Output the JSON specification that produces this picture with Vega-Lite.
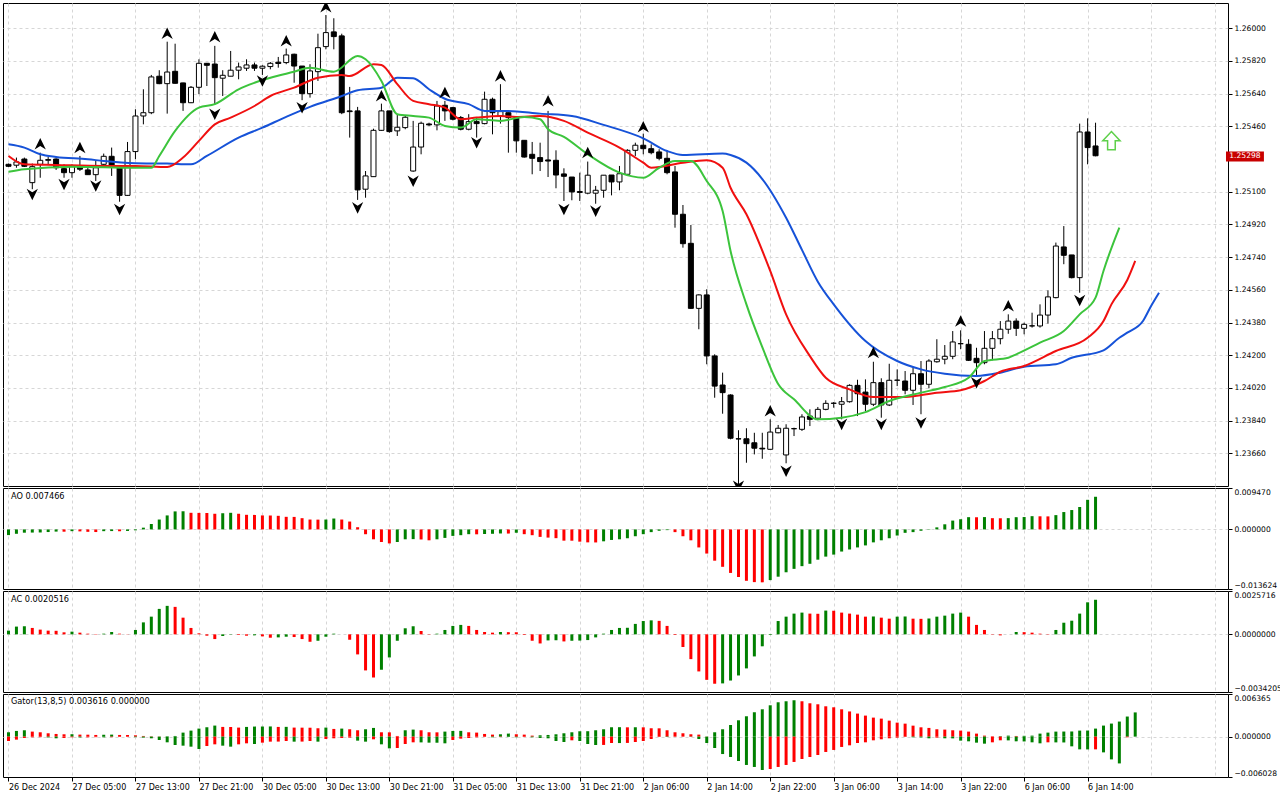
{
"$schema": "https://vega.github.io/schema/vega-lite/v6.json",
"background": "white",
"padding": {"left": 2, "top": 2, "right": 0, "bottom": 0},
"spacing": 0,
"config": {
  "view": {"stroke": "black", "strokeWidth": 1},
  "axis": {"labelFont": "DejaVu Sans", "labelFontSize": 7.6, "labelColor": "black", "tickColor": "black", "gridColor": "#d6d6d6", "gridDash": [3, 3], "gridWidth": 1, "domain": false},
  "text": {"font": "DejaVu Sans"}
},
"datasets": {
"candles": [
{"i":0,"o":1.25251,"h":1.25255,"l":1.25236,"c":1.2524,"d":"down"},
{"i":1,"o":1.25246,"h":1.25288,"l":1.25232,"c":1.25264,"d":"up"},
{"i":2,"o":1.2528,"h":1.25288,"l":1.25236,"c":1.2524,"d":"down"},
{"i":3,"o":1.2515,"h":1.25255,"l":1.25114,"c":1.25238,"d":"up"},
{"i":4,"o":1.25251,"h":1.25315,"l":1.25177,"c":1.25273,"d":"up"},
{"i":5,"o":1.25273,"h":1.25291,"l":1.25251,"c":1.25277,"d":"up"},
{"i":6,"o":1.2528,"h":1.25284,"l":1.2522,"c":1.25232,"d":"down"},
{"i":7,"o":1.25227,"h":1.25251,"l":1.25177,"c":1.25205,"d":"down"},
{"i":8,"o":1.25205,"h":1.25251,"l":1.25177,"c":1.25238,"d":"up"},
{"i":9,"o":1.25238,"h":1.25297,"l":1.25214,"c":1.25224,"d":"down"},
{"i":10,"o":1.2522,"h":1.25242,"l":1.25194,"c":1.25194,"d":"down"},
{"i":11,"o":1.25194,"h":1.25273,"l":1.25159,"c":1.25232,"d":"up"},
{"i":12,"o":1.25251,"h":1.2531,"l":1.25232,"c":1.25295,"d":"up"},
{"i":13,"o":1.25295,"h":1.25343,"l":1.25187,"c":1.25247,"d":"down"},
{"i":14,"o":1.25232,"h":1.25238,"l":1.25045,"c":1.2508,"d":"down"},
{"i":15,"o":1.2508,"h":1.25374,"l":1.25077,"c":1.25321,"d":"up"},
{"i":16,"o":1.25321,"h":1.25554,"l":1.25279,"c":1.25517,"d":"up"},
{"i":17,"o":1.25517,"h":1.25664,"l":1.25471,"c":1.25535,"d":"up"},
{"i":18,"o":1.25535,"h":1.25743,"l":1.25527,"c":1.25732,"d":"up"},
{"i":19,"o":1.25736,"h":1.25769,"l":1.25692,"c":1.25695,"d":"down"},
{"i":20,"o":1.25695,"h":1.25926,"l":1.2553,"c":1.25759,"d":"up"},
{"i":21,"o":1.25763,"h":1.25915,"l":1.25695,"c":1.25697,"d":"down"},
{"i":22,"o":1.25699,"h":1.257,"l":1.25545,"c":1.2559,"d":"down"},
{"i":23,"o":1.2559,"h":1.25682,"l":1.25588,"c":1.25675,"d":"up"},
{"i":24,"o":1.25675,"h":1.25829,"l":1.25637,"c":1.25807,"d":"up"},
{"i":25,"o":1.25807,"h":1.25809,"l":1.25682,"c":1.25796,"d":"down"},
{"i":26,"o":1.25803,"h":1.25903,"l":1.25578,"c":1.25728,"d":"down"},
{"i":27,"o":1.25725,"h":1.25769,"l":1.25627,"c":1.25741,"d":"up"},
{"i":28,"o":1.25736,"h":1.25875,"l":1.25736,"c":1.25769,"d":"up"},
{"i":29,"o":1.25769,"h":1.25811,"l":1.25719,"c":1.25787,"d":"up"},
{"i":30,"o":1.2578,"h":1.25829,"l":1.25765,"c":1.25798,"d":"up"},
{"i":31,"o":1.25798,"h":1.25811,"l":1.25765,"c":1.2578,"d":"down"},
{"i":32,"o":1.2578,"h":1.25796,"l":1.25743,"c":1.25791,"d":"up"},
{"i":33,"o":1.25789,"h":1.25814,"l":1.25774,"c":1.25807,"d":"up"},
{"i":34,"o":1.25813,"h":1.25842,"l":1.25783,"c":1.25806,"d":"down"},
{"i":35,"o":1.25811,"h":1.25888,"l":1.25802,"c":1.25853,"d":"up"},
{"i":36,"o":1.25857,"h":1.2586,"l":1.257,"c":1.25792,"d":"down"},
{"i":37,"o":1.25792,"h":1.25792,"l":1.25604,"c":1.2564,"d":"down"},
{"i":38,"o":1.2564,"h":1.25802,"l":1.25618,"c":1.25765,"d":"up"},
{"i":39,"o":1.25761,"h":1.2597,"l":1.2571,"c":1.25893,"d":"up"},
{"i":40,"o":1.25899,"h":1.26073,"l":1.25884,"c":1.25976,"d":"up"},
{"i":41,"o":1.2598,"h":1.26055,"l":1.25884,"c":1.25954,"d":"down"},
{"i":42,"o":1.25958,"h":1.2597,"l":1.25527,"c":1.25535,"d":"down"},
{"i":43,"o":1.25545,"h":1.25677,"l":1.25398,"c":1.25541,"d":"down"},
{"i":44,"o":1.25545,"h":1.25567,"l":1.25055,"c":1.2511,"d":"down"},
{"i":45,"o":1.25114,"h":1.25214,"l":1.25067,"c":1.25187,"d":"up"},
{"i":46,"o":1.25183,"h":1.25447,"l":1.25183,"c":1.25438,"d":"up"},
{"i":47,"o":1.25438,"h":1.25585,"l":1.25435,"c":1.25545,"d":"up"},
{"i":48,"o":1.25545,"h":1.25545,"l":1.25425,"c":1.25431,"d":"down"},
{"i":49,"o":1.25435,"h":1.25527,"l":1.25407,"c":1.25455,"d":"up"},
{"i":50,"o":1.25453,"h":1.25517,"l":1.25444,"c":1.2551,"d":"up"},
{"i":51,"o":1.25214,"h":1.2549,"l":1.2521,"c":1.25346,"d":"up"},
{"i":52,"o":1.25346,"h":1.25486,"l":1.25306,"c":1.25477,"d":"up"},
{"i":53,"o":1.25473,"h":1.2548,"l":1.25462,"c":1.25468,"d":"down"},
{"i":54,"o":1.25468,"h":1.256,"l":1.25438,"c":1.25572,"d":"up"},
{"i":55,"o":1.25576,"h":1.256,"l":1.2549,"c":1.25545,"d":"down"},
{"i":56,"o":1.25563,"h":1.25567,"l":1.25493,"c":1.25499,"d":"down"},
{"i":57,"o":1.25508,"h":1.25517,"l":1.25438,"c":1.25444,"d":"down"},
{"i":58,"o":1.25444,"h":1.25527,"l":1.25438,"c":1.25486,"d":"up"},
{"i":59,"o":1.25486,"h":1.25508,"l":1.25398,"c":1.25475,"d":"down"},
{"i":60,"o":1.25475,"h":1.25651,"l":1.25471,"c":1.25609,"d":"up"},
{"i":61,"o":1.25609,"h":1.25618,"l":1.25416,"c":1.25535,"d":"down"},
{"i":62,"o":1.25517,"h":1.25692,"l":1.25475,"c":1.25541,"d":"up"},
{"i":63,"o":1.25535,"h":1.25535,"l":1.25315,"c":1.25508,"d":"down"},
{"i":64,"o":1.25508,"h":1.25517,"l":1.25315,"c":1.2538,"d":"down"},
{"i":65,"o":1.25383,"h":1.25383,"l":1.25288,"c":1.25291,"d":"down"},
{"i":66,"o":1.25306,"h":1.25374,"l":1.25196,"c":1.25284,"d":"down"},
{"i":67,"o":1.25288,"h":1.2537,"l":1.25214,"c":1.25266,"d":"down"},
{"i":68,"o":1.25275,"h":1.25545,"l":1.25181,"c":1.25269,"d":"down"},
{"i":69,"o":1.25273,"h":1.25328,"l":1.25119,"c":1.25192,"d":"down"},
{"i":70,"o":1.25198,"h":1.25229,"l":1.25049,"c":1.25185,"d":"down"},
{"i":71,"o":1.25181,"h":1.25181,"l":1.25053,"c":1.25099,"d":"down"},
{"i":72,"o":1.25101,"h":1.25205,"l":1.25049,"c":1.25096,"d":"down"},
{"i":73,"o":1.25092,"h":1.25266,"l":1.25086,"c":1.25191,"d":"up"},
{"i":74,"o":1.25092,"h":1.25132,"l":1.25034,"c":1.25108,"d":"up"},
{"i":75,"o":1.25108,"h":1.25192,"l":1.25067,"c":1.25191,"d":"up"},
{"i":76,"o":1.25192,"h":1.25192,"l":1.2508,"c":1.25154,"d":"down"},
{"i":77,"o":1.25154,"h":1.25242,"l":1.25108,"c":1.25199,"d":"up"},
{"i":78,"o":1.25196,"h":1.25334,"l":1.25196,"c":1.25328,"d":"up"},
{"i":79,"o":1.25328,"h":1.2537,"l":1.25297,"c":1.25356,"d":"up"},
{"i":80,"o":1.25356,"h":1.2542,"l":1.25306,"c":1.25337,"d":"down"},
{"i":81,"o":1.25337,"h":1.25361,"l":1.25306,"c":1.25315,"d":"down"},
{"i":82,"o":1.25319,"h":1.25334,"l":1.25273,"c":1.25284,"d":"down"},
{"i":83,"o":1.25284,"h":1.25328,"l":1.25196,"c":1.25205,"d":"down"},
{"i":84,"o":1.25209,"h":1.25242,"l":1.24902,"c":1.24976,"d":"down"},
{"i":85,"o":1.24976,"h":1.25027,"l":1.24792,"c":1.24814,"d":"down"},
{"i":86,"o":1.24816,"h":1.24917,"l":1.24455,"c":1.24458,"d":"down"},
{"i":87,"o":1.24458,"h":1.24535,"l":1.24343,"c":1.24532,"d":"up"},
{"i":88,"o":1.24532,"h":1.24563,"l":1.2415,"c":1.24196,"d":"down"},
{"i":89,"o":1.24196,"h":1.24205,"l":1.23966,"c":1.2403,"d":"down"},
{"i":90,"o":1.24036,"h":1.24104,"l":1.23878,"c":1.23994,"d":"down"},
{"i":91,"o":1.23981,"h":1.23985,"l":1.23737,"c":1.23743,"d":"down"},
{"i":92,"o":1.2374,"h":1.23787,"l":1.23471,"c":1.23739,"d":"down"},
{"i":93,"o":1.2374,"h":1.23798,"l":1.23608,"c":1.23713,"d":"down"},
{"i":94,"o":1.23718,"h":1.23773,"l":1.23654,"c":1.23688,"d":"down"},
{"i":95,"o":1.23688,"h":1.23773,"l":1.2363,"c":1.23684,"d":"down"},
{"i":96,"o":1.23682,"h":1.23847,"l":1.2368,"c":1.23777,"d":"up"},
{"i":97,"o":1.23773,"h":1.23816,"l":1.2377,"c":1.23798,"d":"up"},
{"i":98,"o":1.23651,"h":1.2382,"l":1.23605,"c":1.23798,"d":"up"},
{"i":99,"o":1.23795,"h":1.23801,"l":1.23755,"c":1.23796,"d":"up"},
{"i":100,"o":1.23792,"h":1.23875,"l":1.23783,"c":1.2386,"d":"up"},
{"i":101,"o":1.23865,"h":1.23902,"l":1.2381,"c":1.23847,"d":"down"},
{"i":102,"o":1.23853,"h":1.23915,"l":1.23842,"c":1.23902,"d":"up"},
{"i":103,"o":1.23902,"h":1.23952,"l":1.23897,"c":1.23935,"d":"up"},
{"i":104,"o":1.23935,"h":1.23942,"l":1.23911,"c":1.23936,"d":"up"},
{"i":105,"o":1.2393,"h":1.2397,"l":1.23847,"c":1.23944,"d":"up"},
{"i":106,"o":1.23944,"h":1.2404,"l":1.23939,"c":1.24034,"d":"up"},
{"i":107,"o":1.24034,"h":1.24065,"l":1.23865,"c":1.23988,"d":"down"},
{"i":108,"o":1.23997,"h":1.24067,"l":1.23893,"c":1.2393,"d":"down"},
{"i":109,"o":1.2393,"h":1.24164,"l":1.2392,"c":1.24049,"d":"up"},
{"i":110,"o":1.24049,"h":1.24073,"l":1.23856,"c":1.23926,"d":"down"},
{"i":111,"o":1.23926,"h":1.24153,"l":1.2392,"c":1.24062,"d":"up"},
{"i":112,"o":1.24062,"h":1.24122,"l":1.2403,"c":1.24063,"d":"up"},
{"i":113,"o":1.24058,"h":1.24113,"l":1.23985,"c":1.24007,"d":"down"},
{"i":114,"o":1.24007,"h":1.24131,"l":1.23926,"c":1.24098,"d":"up"},
{"i":115,"o":1.24098,"h":1.24168,"l":1.23875,"c":1.2404,"d":"down"},
{"i":116,"o":1.2404,"h":1.24178,"l":1.24018,"c":1.24168,"d":"up"},
{"i":117,"o":1.24164,"h":1.24288,"l":1.24159,"c":1.24178,"d":"up"},
{"i":118,"o":1.24178,"h":1.24256,"l":1.2415,"c":1.24194,"d":"up"},
{"i":119,"o":1.24194,"h":1.24333,"l":1.24178,"c":1.24273,"d":"up"},
{"i":120,"o":1.24263,"h":1.24337,"l":1.24233,"c":1.24264,"d":"up"},
{"i":121,"o":1.2426,"h":1.24288,"l":1.24168,"c":1.24172,"d":"down"},
{"i":122,"o":1.24183,"h":1.24241,"l":1.24086,"c":1.24159,"d":"down"},
{"i":123,"o":1.24159,"h":1.24333,"l":1.2415,"c":1.24238,"d":"up"},
{"i":124,"o":1.24238,"h":1.24333,"l":1.24172,"c":1.24291,"d":"up"},
{"i":125,"o":1.24291,"h":1.24388,"l":1.2426,"c":1.24343,"d":"up"},
{"i":126,"o":1.24343,"h":1.24425,"l":1.24318,"c":1.24388,"d":"up"},
{"i":127,"o":1.24388,"h":1.24403,"l":1.24306,"c":1.24348,"d":"down"},
{"i":128,"o":1.24348,"h":1.24379,"l":1.24315,"c":1.2437,"d":"up"},
{"i":129,"o":1.24361,"h":1.24434,"l":1.24352,"c":1.24362,"d":"up"},
{"i":130,"o":1.24361,"h":1.2448,"l":1.24352,"c":1.24421,"d":"up"},
{"i":131,"o":1.24421,"h":1.24557,"l":1.24374,"c":1.24521,"d":"up"},
{"i":132,"o":1.24517,"h":1.2482,"l":1.24513,"c":1.24801,"d":"up"},
{"i":133,"o":1.24796,"h":1.24911,"l":1.24701,"c":1.2475,"d":"down"},
{"i":134,"o":1.24752,"h":1.24752,"l":1.24623,"c":1.24627,"d":"down"},
{"i":135,"o":1.24627,"h":1.25475,"l":1.24544,"c":1.25429,"d":"up"},
{"i":136,"o":1.25429,"h":1.25504,"l":1.25251,"c":1.25343,"d":"down"},
{"i":137,"o":1.25352,"h":1.2548,"l":1.25295,"c":1.25298,"d":"down"}
],
"jaw": [
{"i":0,"v":1.25361},{"i":2,"v":1.25343},{"i":4,"v":1.25306},{"i":6,"v":1.25291},{"i":10,"v":1.25279},{"i":12,"v":1.25269},{"i":16,"v":1.25257},{"i":20,"v":1.25255},{"i":23,"v":1.25251},{"i":25,"v":1.25297},{"i":29,"v":1.25398},{"i":32,"v":1.25453},{"i":35,"v":1.25512},{"i":38,"v":1.25567},{"i":42,"v":1.25627},{"i":44,"v":1.25659},{"i":47,"v":1.25673},{"i":49,"v":1.25728},{"i":51,"v":1.25725},{"i":53,"v":1.25664},{"i":55,"v":1.25612},{"i":58,"v":1.25582},{"i":60,"v":1.25545},{"i":63,"v":1.25545},{"i":67,"v":1.2553},{"i":71,"v":1.25517},{"i":75,"v":1.25468},{"i":80,"v":1.25394},{"i":83,"v":1.25324},{"i":85,"v":1.25302},{"i":90,"v":1.2531},{"i":91,"v":1.25302},{"i":93,"v":1.2526},{"i":95,"v":1.2517},{"i":98,"v":1.24957},{"i":100,"v":1.2478},{"i":102,"v":1.24605},{"i":104,"v":1.2448},{"i":108,"v":1.24278},{"i":112,"v":1.24168},{"i":115,"v":1.24122},{"i":118,"v":1.24098},{"i":122,"v":1.24086},{"i":125,"v":1.24104},{"i":128,"v":1.24137},{"i":132,"v":1.2415},{"i":134,"v":1.24186},{"i":138,"v":1.24227},{"i":140,"v":1.24296},{"i":141,"v":1.24324},{"i":143,"v":1.2439},{"i":144,"v":1.24471},{"i":145,"v":1.24544}
],
"teeth": [
{"i":0,"v":1.25297},{"i":2,"v":1.25251},{"i":6,"v":1.25247},{"i":12,"v":1.25242},{"i":16,"v":1.25242},{"i":20,"v":1.25236},{"i":22,"v":1.25288},{"i":24,"v":1.2538},{"i":26,"v":1.25471},{"i":28,"v":1.25508},{"i":31,"v":1.25572},{"i":33,"v":1.25627},{"i":36,"v":1.25673},{"i":39,"v":1.25728},{"i":42,"v":1.25743},{"i":43,"v":1.25737},{"i":46,"v":1.25802},{"i":47,"v":1.25798},{"i":49,"v":1.25692},{"i":51,"v":1.256},{"i":53,"v":1.25582},{"i":55,"v":1.25563},{"i":57,"v":1.25499},{"i":59,"v":1.25508},{"i":62,"v":1.25517},{"i":64,"v":1.25512},{"i":67,"v":1.25517},{"i":70,"v":1.2549},{"i":73,"v":1.25425},{"i":77,"v":1.25343},{"i":80,"v":1.2526},{"i":81,"v":1.25232},{"i":85,"v":1.2526},{"i":88,"v":1.25273},{"i":90,"v":1.25232},{"i":91,"v":1.25122},{"i":93,"v":1.24976},{"i":96,"v":1.24664},{"i":98,"v":1.24425},{"i":101,"v":1.24195},{"i":103,"v":1.24076},{"i":106,"v":1.24012},{"i":109,"v":1.2397},{"i":113,"v":1.2397},{"i":117,"v":1.23994},{"i":120,"v":1.24007},{"i":123,"v":1.24058},{"i":125,"v":1.24109},{"i":128,"v":1.24141},{"i":132,"v":1.24223},{"i":136,"v":1.24296},{"i":138,"v":1.24388},{"i":139,"v":1.2448},{"i":141,"v":1.24614},{"i":142,"v":1.24719}
],
"lips": [
{"i":0,"v":1.2521},{"i":2,"v":1.25224},{"i":8,"v":1.25238},{"i":16,"v":1.25232},{"i":18,"v":1.25232},{"i":19,"v":1.25297},{"i":21,"v":1.25435},{"i":24,"v":1.25563},{"i":26,"v":1.25582},{"i":29,"v":1.25664},{"i":31,"v":1.257},{"i":35,"v":1.2575},{"i":36,"v":1.25761},{"i":38,"v":1.25783},{"i":41,"v":1.25761},{"i":44,"v":1.25847},{"i":45,"v":1.25829},{"i":47,"v":1.2571},{"i":49,"v":1.25527},{"i":51,"v":1.25517},{"i":53,"v":1.25508},{"i":55,"v":1.25462},{"i":57,"v":1.25453},{"i":59,"v":1.25499},{"i":62,"v":1.2549},{"i":65,"v":1.25512},{"i":67,"v":1.25499},{"i":68,"v":1.25444},{"i":70,"v":1.25402},{"i":73,"v":1.25306},{"i":77,"v":1.25205},{"i":80,"v":1.25177},{"i":82,"v":1.25232},{"i":84,"v":1.25269},{"i":86,"v":1.25269},{"i":88,"v":1.25159},{"i":90,"v":1.24994},{"i":91,"v":1.24774},{"i":93,"v":1.2448},{"i":95,"v":1.24245},{"i":97,"v":1.24042},{"i":99,"v":1.23957},{"i":102,"v":1.23847},{"i":105,"v":1.23856},{"i":108,"v":1.23887},{"i":111,"v":1.23948},{"i":115,"v":1.23994},{"i":118,"v":1.24025},{"i":121,"v":1.24076},{"i":123,"v":1.24168},{"i":126,"v":1.24186},{"i":127,"v":1.24205},{"i":130,"v":1.24269},{"i":133,"v":1.24333},{"i":135,"v":1.24425},{"i":137,"v":1.24517},{"i":138,"v":1.24664},{"i":140,"v":1.24902}
],
"fractals": [
{"i":4,"p":1.25363,"t":"up"},{"i":9,"p":1.25343,"t":"up"},{"i":20,"p":1.25972,"t":"up"},{"i":26,"p":1.25952,"t":"up"},{"i":35,"p":1.2593,"t":"up"},{"i":40,"p":1.26117,"t":"up"},{"i":47,"p":1.25627,"t":"up"},{"i":55,"p":1.25645,"t":"up"},{"i":62,"p":1.25737,"t":"up"},{"i":68,"p":1.256,"t":"up"},{"i":73,"p":1.25315,"t":"up"},{"i":80,"p":1.25457,"t":"up"},{"i":96,"p":1.23893,"t":"up"},{"i":109,"p":1.24214,"t":"up"},{"i":120,"p":1.24388,"t":"up"},{"i":126,"p":1.24471,"t":"up"},
{"i":3,"p":1.25086,"t":"down"},{"i":7,"p":1.25141,"t":"down"},{"i":11,"p":1.25132,"t":"down"},{"i":14,"p":1.25003,"t":"down"},{"i":26,"p":1.25527,"t":"down"},{"i":32,"p":1.2571,"t":"down"},{"i":37,"p":1.25563,"t":"down"},{"i":44,"p":1.25012,"t":"down"},{"i":51,"p":1.25159,"t":"down"},{"i":59,"p":1.2537,"t":"down"},{"i":70,"p":1.25003,"t":"down"},{"i":74,"p":1.24994,"t":"down"},{"i":92,"p":1.2348,"t":"down"},{"i":98,"p":1.23562,"t":"down"},{"i":105,"p":1.2382,"t":"down"},{"i":110,"p":1.2382,"t":"down"},{"i":115,"p":1.23828,"t":"down"},{"i":122,"p":1.24049,"t":"down"},{"i":135,"p":1.24502,"t":"down"}
],
"ao": [
{"i":0,"v":-0.0013,"c":"up"},{"i":1,"v":-0.001,"c":"up"},{"i":2,"v":-0.00075,"c":"up"},{"i":3,"v":-0.00072,"c":"up"},{"i":4,"v":-0.0007,"c":"up"},{"i":5,"v":-0.0006,"c":"up"},{"i":6,"v":-0.0005,"c":"up"},{"i":7,"v":-0.00052,"c":"down"},{"i":8,"v":-0.0004,"c":"up"},{"i":9,"v":-0.00045,"c":"down"},{"i":10,"v":-0.00055,"c":"down"},{"i":11,"v":-0.0006,"c":"down"},{"i":12,"v":-0.0004,"c":"up"},{"i":13,"v":-0.00038,"c":"up"},{"i":14,"v":-0.00042,"c":"down"},{"i":15,"v":-0.00035,"c":"up"},{"i":16,"v":-0.0002,"c":"up"},{"i":17,"v":0.0004,"c":"up"},{"i":18,"v":0.00124,"c":"up"},{"i":19,"v":0.00226,"c":"up"},{"i":20,"v":0.0032,"c":"up"},{"i":21,"v":0.00412,"c":"up"},{"i":22,"v":0.00415,"c":"up"},{"i":23,"v":0.0038,"c":"down"},{"i":24,"v":0.00378,"c":"down"},{"i":25,"v":0.00376,"c":"down"},{"i":26,"v":0.00358,"c":"down"},{"i":27,"v":0.0037,"c":"up"},{"i":28,"v":0.0038,"c":"up"},{"i":29,"v":0.00358,"c":"down"},{"i":30,"v":0.00334,"c":"down"},{"i":31,"v":0.00332,"c":"down"},{"i":32,"v":0.0032,"c":"down"},{"i":33,"v":0.00318,"c":"down"},{"i":34,"v":0.00311,"c":"down"},{"i":35,"v":0.00288,"c":"down"},{"i":36,"v":0.00286,"c":"down"},{"i":37,"v":0.00257,"c":"down"},{"i":38,"v":0.00226,"c":"down"},{"i":39,"v":0.00224,"c":"down"},{"i":40,"v":0.00226,"c":"up"},{"i":41,"v":0.00249,"c":"up"},{"i":42,"v":0.00226,"c":"down"},{"i":43,"v":0.0018,"c":"down"},{"i":44,"v":0.0005,"c":"down"},{"i":45,"v":-0.0011,"c":"down"},{"i":46,"v":-0.00226,"c":"down"},{"i":47,"v":-0.00288,"c":"down"},{"i":48,"v":-0.0032,"c":"down"},{"i":49,"v":-0.00288,"c":"up"},{"i":50,"v":-0.00226,"c":"up"},{"i":51,"v":-0.00222,"c":"up"},{"i":52,"v":-0.0023,"c":"down"},{"i":53,"v":-0.00249,"c":"down"},{"i":54,"v":-0.00226,"c":"up"},{"i":55,"v":-0.00194,"c":"up"},{"i":56,"v":-0.00148,"c":"up"},{"i":57,"v":-0.00132,"c":"up"},{"i":58,"v":-0.00109,"c":"up"},{"i":59,"v":-0.00112,"c":"down"},{"i":60,"v":-0.00105,"c":"up"},{"i":61,"v":-0.001,"c":"up"},{"i":62,"v":-0.00093,"c":"up"},{"i":63,"v":-0.00095,"c":"down"},{"i":64,"v":-0.00078,"c":"up"},{"i":65,"v":-0.00109,"c":"down"},{"i":66,"v":-0.00132,"c":"down"},{"i":67,"v":-0.00171,"c":"down"},{"i":68,"v":-0.00187,"c":"down"},{"i":69,"v":-0.002,"c":"down"},{"i":70,"v":-0.00257,"c":"down"},{"i":71,"v":-0.00258,"c":"down"},{"i":72,"v":-0.0028,"c":"down"},{"i":73,"v":-0.00296,"c":"down"},{"i":74,"v":-0.00298,"c":"down"},{"i":75,"v":-0.00272,"c":"up"},{"i":76,"v":-0.00241,"c":"up"},{"i":77,"v":-0.00226,"c":"up"},{"i":78,"v":-0.00202,"c":"up"},{"i":79,"v":-0.00156,"c":"up"},{"i":80,"v":-0.00109,"c":"up"},{"i":81,"v":-0.00062,"c":"up"},{"i":82,"v":-0.00031,"c":"up"},{"i":83,"v":-0.00016,"c":"up"},{"i":84,"v":-0.00062,"c":"down"},{"i":85,"v":-0.00156,"c":"down"},{"i":86,"v":-0.00249,"c":"down"},{"i":87,"v":-0.00412,"c":"down"},{"i":88,"v":-0.00552,"c":"down"},{"i":89,"v":-0.00715,"c":"down"},{"i":90,"v":-0.00855,"c":"down"},{"i":91,"v":-0.00995,"c":"down"},{"i":92,"v":-0.01088,"c":"down"},{"i":93,"v":-0.01175,"c":"down"},{"i":94,"v":-0.01205,"c":"down"},{"i":95,"v":-0.0121,"c":"down"},{"i":96,"v":-0.01159,"c":"up"},{"i":97,"v":-0.01081,"c":"up"},{"i":98,"v":-0.0098,"c":"up"},{"i":99,"v":-0.00902,"c":"up"},{"i":100,"v":-0.0084,"c":"up"},{"i":101,"v":-0.00786,"c":"up"},{"i":102,"v":-0.00692,"c":"up"},{"i":103,"v":-0.00622,"c":"up"},{"i":104,"v":-0.00576,"c":"up"},{"i":105,"v":-0.00506,"c":"up"},{"i":106,"v":-0.00459,"c":"up"},{"i":107,"v":-0.00412,"c":"up"},{"i":108,"v":-0.00366,"c":"up"},{"i":109,"v":-0.00296,"c":"up"},{"i":110,"v":-0.00249,"c":"up"},{"i":111,"v":-0.00202,"c":"up"},{"i":112,"v":-0.0014,"c":"up"},{"i":113,"v":-0.00078,"c":"up"},{"i":114,"v":-0.00062,"c":"up"},{"i":115,"v":-0.00031,"c":"up"},{"i":116,"v":0.00008,"c":"up"},{"i":117,"v":0.00047,"c":"up"},{"i":118,"v":0.00117,"c":"up"},{"i":119,"v":0.00202,"c":"up"},{"i":120,"v":0.00233,"c":"up"},{"i":121,"v":0.0028,"c":"up"},{"i":122,"v":0.00278,"c":"down"},{"i":123,"v":0.00282,"c":"up"},{"i":124,"v":0.00257,"c":"down"},{"i":125,"v":0.00255,"c":"down"},{"i":126,"v":0.00258,"c":"up"},{"i":127,"v":0.0028,"c":"up"},{"i":128,"v":0.00283,"c":"up"},{"i":129,"v":0.00303,"c":"up"},{"i":130,"v":0.003,"c":"down"},{"i":131,"v":0.00298,"c":"down"},{"i":132,"v":0.00327,"c":"up"},{"i":133,"v":0.00397,"c":"up"},{"i":134,"v":0.00443,"c":"up"},{"i":135,"v":0.00513,"c":"up"},{"i":136,"v":0.00677,"c":"up"},{"i":137,"v":0.007466,"c":"up"}
],
"ac": [
{"i":0,"v":0.00022,"c":"up"},{"i":1,"v":0.00046,"c":"up"},{"i":2,"v":0.00048,"c":"up"},{"i":3,"v":0.00038,"c":"down"},{"i":4,"v":0.00028,"c":"down"},{"i":5,"v":0.00022,"c":"down"},{"i":6,"v":0.00021,"c":"down"},{"i":7,"v":0.00012,"c":"down"},{"i":8,"v":0.00016,"c":"up"},{"i":9,"v":0.0001,"c":"down"},{"i":10,"v":0.00004,"c":"down"},{"i":11,"v":0.00002,"c":"down"},{"i":12,"v":0.00004,"c":"up"},{"i":13,"v":0.00014,"c":"up"},{"i":14,"v":0.00004,"c":"down"},{"i":15,"v":0.00001,"c":"down"},{"i":16,"v":0.00026,"c":"up"},{"i":17,"v":0.00071,"c":"up"},{"i":18,"v":0.00105,"c":"up"},{"i":19,"v":0.00151,"c":"up"},{"i":20,"v":0.00169,"c":"up"},{"i":21,"v":0.00163,"c":"down"},{"i":22,"v":0.00099,"c":"down"},{"i":23,"v":0.00038,"c":"down"},{"i":24,"v":0.00006,"c":"down"},{"i":25,"v":-0.00008,"c":"down"},{"i":26,"v":-0.00028,"c":"down"},{"i":27,"v":-0.0001,"c":"up"},{"i":28,"v":-0.00002,"c":"up"},{"i":29,"v":-0.00004,"c":"down"},{"i":30,"v":-0.00008,"c":"down"},{"i":31,"v":-0.00006,"c":"up"},{"i":32,"v":-0.00012,"c":"down"},{"i":33,"v":-0.0002,"c":"down"},{"i":34,"v":-0.00018,"c":"up"},{"i":35,"v":-0.00014,"c":"up"},{"i":36,"v":-0.00016,"c":"down"},{"i":37,"v":-0.00028,"c":"down"},{"i":38,"v":-0.00044,"c":"down"},{"i":39,"v":-0.00038,"c":"up"},{"i":40,"v":-0.00014,"c":"up"},{"i":41,"v":0.00004,"c":"up"},{"i":42,"v":0.0,"c":"down"},{"i":43,"v":-0.00032,"c":"down"},{"i":44,"v":-0.00119,"c":"down"},{"i":45,"v":-0.00214,"c":"down"},{"i":46,"v":-0.00256,"c":"down"},{"i":47,"v":-0.0021,"c":"up"},{"i":48,"v":-0.00137,"c":"up"},{"i":49,"v":-0.00038,"c":"up"},{"i":50,"v":0.00036,"c":"up"},{"i":51,"v":0.00048,"c":"up"},{"i":52,"v":0.0002,"c":"down"},{"i":53,"v":-0.00002,"c":"down"},{"i":54,"v":0.00004,"c":"up"},{"i":55,"v":0.00026,"c":"up"},{"i":56,"v":0.0005,"c":"up"},{"i":57,"v":0.00056,"c":"up"},{"i":58,"v":0.0005,"c":"down"},{"i":59,"v":0.00026,"c":"down"},{"i":60,"v":0.00014,"c":"down"},{"i":61,"v":0.0001,"c":"down"},{"i":62,"v":0.00014,"c":"up"},{"i":63,"v":0.00013,"c":"down"},{"i":64,"v":0.00012,"c":"down"},{"i":65,"v":-0.00004,"c":"down"},{"i":66,"v":-0.00038,"c":"down"},{"i":67,"v":-0.00054,"c":"down"},{"i":68,"v":-0.00036,"c":"up"},{"i":69,"v":-0.00035,"c":"up"},{"i":70,"v":-0.00042,"c":"down"},{"i":71,"v":-0.00038,"c":"up"},{"i":72,"v":-0.00037,"c":"up"},{"i":73,"v":-0.00034,"c":"up"},{"i":74,"v":-0.00018,"c":"up"},{"i":75,"v":0.00004,"c":"up"},{"i":76,"v":0.00026,"c":"up"},{"i":77,"v":0.00038,"c":"up"},{"i":78,"v":0.00039,"c":"up"},{"i":79,"v":0.00062,"c":"up"},{"i":80,"v":0.00079,"c":"up"},{"i":81,"v":0.00083,"c":"up"},{"i":82,"v":0.0008,"c":"down"},{"i":83,"v":0.0005,"c":"down"},{"i":84,"v":-0.00004,"c":"down"},{"i":85,"v":-0.00075,"c":"down"},{"i":86,"v":-0.00147,"c":"down"},{"i":87,"v":-0.0022,"c":"down"},{"i":88,"v":-0.0027,"c":"down"},{"i":89,"v":-0.00293,"c":"down"},{"i":90,"v":-0.00291,"c":"up"},{"i":91,"v":-0.00274,"c":"up"},{"i":92,"v":-0.00244,"c":"up"},{"i":93,"v":-0.00202,"c":"up"},{"i":94,"v":-0.00131,"c":"up"},{"i":95,"v":-0.00071,"c":"up"},{"i":96,"v":-0.00004,"c":"up"},{"i":97,"v":0.00079,"c":"up"},{"i":98,"v":0.00105,"c":"up"},{"i":99,"v":0.00123,"c":"up"},{"i":100,"v":0.00129,"c":"up"},{"i":101,"v":0.00123,"c":"down"},{"i":102,"v":0.00122,"c":"down"},{"i":103,"v":0.00141,"c":"up"},{"i":104,"v":0.0014,"c":"down"},{"i":105,"v":0.00129,"c":"down"},{"i":106,"v":0.00123,"c":"down"},{"i":107,"v":0.00117,"c":"down"},{"i":108,"v":0.00105,"c":"down"},{"i":109,"v":0.00106,"c":"up"},{"i":110,"v":0.00099,"c":"down"},{"i":111,"v":0.00093,"c":"down"},{"i":112,"v":0.00105,"c":"up"},{"i":113,"v":0.00106,"c":"up"},{"i":114,"v":0.00093,"c":"down"},{"i":115,"v":0.00092,"c":"down"},{"i":116,"v":0.00094,"c":"up"},{"i":117,"v":0.00105,"c":"up"},{"i":118,"v":0.00111,"c":"up"},{"i":119,"v":0.00123,"c":"up"},{"i":120,"v":0.00129,"c":"up"},{"i":121,"v":0.00105,"c":"down"},{"i":122,"v":0.00056,"c":"down"},{"i":123,"v":0.00026,"c":"down"},{"i":124,"v":-0.00002,"c":"down"},{"i":125,"v":-0.00006,"c":"down"},{"i":126,"v":0.0,"c":"up"},{"i":127,"v":0.00014,"c":"up"},{"i":128,"v":0.00013,"c":"down"},{"i":129,"v":0.0001,"c":"down"},{"i":130,"v":0.00004,"c":"down"},{"i":131,"v":0.00002,"c":"down"},{"i":132,"v":0.00026,"c":"up"},{"i":133,"v":0.00069,"c":"up"},{"i":134,"v":0.00081,"c":"up"},{"i":135,"v":0.00123,"c":"up"},{"i":136,"v":0.0019,"c":"up"},{"i":137,"v":0.0020516,"c":"up"}
],
"gator": [
{"i":0,"v":0.00065,"c":"up"},{"i":1,"v":0.00085,"c":"up"},{"i":2,"v":0.00095,"c":"up"},{"i":3,"v":0.00075,"c":"down"},{"i":4,"v":0.00065,"c":"down"},{"i":5,"v":0.0005,"c":"down"},{"i":6,"v":0.0004,"c":"down"},{"i":7,"v":0.00035,"c":"down"},{"i":8,"v":0.00036,"c":"up"},{"i":9,"v":0.0003,"c":"down"},{"i":10,"v":0.00029,"c":"down"},{"i":11,"v":0.00025,"c":"down"},{"i":12,"v":0.00028,"c":"up"},{"i":13,"v":0.0003,"c":"up"},{"i":14,"v":0.00025,"c":"down"},{"i":15,"v":0.00024,"c":"down"},{"i":16,"v":0.0002,"c":"down"},{"i":17,"v":0.0001,"c":"down"},{"i":18,"v":0.00005,"c":"down"},{"i":19,"v":0.00003,"c":"down"},{"i":20,"v":0.00005,"c":"up"},{"i":21,"v":0.0001,"c":"up"},{"i":22,"v":0.0006,"c":"up"},{"i":23,"v":0.0009,"c":"up"},{"i":24,"v":0.0012,"c":"up"},{"i":25,"v":0.0014,"c":"up"},{"i":26,"v":0.00165,"c":"up"},{"i":27,"v":0.00145,"c":"down"},{"i":28,"v":0.00144,"c":"down"},{"i":29,"v":0.00135,"c":"down"},{"i":30,"v":0.00145,"c":"up"},{"i":31,"v":0.0015,"c":"up"},{"i":32,"v":0.00151,"c":"up"},{"i":33,"v":0.00152,"c":"up"},{"i":34,"v":0.00145,"c":"down"},{"i":35,"v":0.00146,"c":"up"},{"i":36,"v":0.00135,"c":"down"},{"i":37,"v":0.00134,"c":"down"},{"i":38,"v":0.00133,"c":"down"},{"i":39,"v":0.00125,"c":"down"},{"i":40,"v":0.00135,"c":"up"},{"i":41,"v":0.00115,"c":"down"},{"i":42,"v":0.0012,"c":"up"},{"i":43,"v":0.0011,"c":"down"},{"i":44,"v":0.00095,"c":"down"},{"i":45,"v":0.0011,"c":"up"},{"i":46,"v":0.0013,"c":"up"},{"i":47,"v":0.00065,"c":"down"},{"i":48,"v":0.00064,"c":"down"},{"i":49,"v":0.0001,"c":"down"},{"i":50,"v":0.00095,"c":"up"},{"i":51,"v":0.00105,"c":"up"},{"i":52,"v":0.00095,"c":"down"},{"i":53,"v":0.00065,"c":"down"},{"i":54,"v":0.00064,"c":"down"},{"i":55,"v":0.00075,"c":"up"},{"i":56,"v":0.00085,"c":"up"},{"i":57,"v":0.00086,"c":"up"},{"i":58,"v":0.00065,"c":"down"},{"i":59,"v":0.0006,"c":"down"},{"i":60,"v":0.0004,"c":"down"},{"i":61,"v":0.0003,"c":"down"},{"i":62,"v":0.00035,"c":"up"},{"i":63,"v":0.00045,"c":"up"},{"i":64,"v":0.00035,"c":"down"},{"i":65,"v":0.0003,"c":"down"},{"i":66,"v":0.00015,"c":"down"},{"i":67,"v":0.0002,"c":"up"},{"i":68,"v":0.00025,"c":"up"},{"i":69,"v":0.00035,"c":"up"},{"i":70,"v":0.0005,"c":"up"},{"i":71,"v":0.00065,"c":"up"},{"i":72,"v":0.0008,"c":"up"},{"i":73,"v":0.00081,"c":"up"},{"i":74,"v":0.00095,"c":"up"},{"i":75,"v":0.0011,"c":"up"},{"i":76,"v":0.0014,"c":"up"},{"i":77,"v":0.00141,"c":"up"},{"i":78,"v":0.00139,"c":"down"},{"i":79,"v":0.0014,"c":"up"},{"i":80,"v":0.00139,"c":"down"},{"i":81,"v":0.00125,"c":"down"},{"i":82,"v":0.00124,"c":"down"},{"i":83,"v":0.00095,"c":"down"},{"i":84,"v":0.00065,"c":"down"},{"i":85,"v":0.0005,"c":"down"},{"i":86,"v":0.00035,"c":"down"},{"i":87,"v":0.0003,"c":"down"},{"i":88,"v":0.00002,"c":"down"},{"i":89,"v":0.00065,"c":"up"},{"i":90,"v":0.0011,"c":"up"},{"i":91,"v":0.00174,"c":"up"},{"i":92,"v":0.00244,"c":"up"},{"i":93,"v":0.00304,"c":"up"},{"i":94,"v":0.00364,"c":"up"},{"i":95,"v":0.00408,"c":"up"},{"i":96,"v":0.00468,"c":"up"},{"i":97,"v":0.00513,"c":"up"},{"i":98,"v":0.00528,"c":"up"},{"i":99,"v":0.00543,"c":"up"},{"i":100,"v":0.00528,"c":"down"},{"i":101,"v":0.00498,"c":"down"},{"i":102,"v":0.00483,"c":"down"},{"i":103,"v":0.00453,"c":"down"},{"i":104,"v":0.00438,"c":"down"},{"i":105,"v":0.00408,"c":"down"},{"i":106,"v":0.00376,"c":"down"},{"i":107,"v":0.00344,"c":"down"},{"i":108,"v":0.00314,"c":"down"},{"i":109,"v":0.00284,"c":"down"},{"i":110,"v":0.00269,"c":"down"},{"i":111,"v":0.00239,"c":"down"},{"i":112,"v":0.00209,"c":"down"},{"i":113,"v":0.00194,"c":"down"},{"i":114,"v":0.00164,"c":"down"},{"i":115,"v":0.00139,"c":"down"},{"i":116,"v":0.0013,"c":"down"},{"i":117,"v":0.0011,"c":"down"},{"i":118,"v":0.00105,"c":"down"},{"i":119,"v":0.00095,"c":"down"},{"i":120,"v":0.0009,"c":"down"},{"i":121,"v":0.00075,"c":"down"},{"i":122,"v":0.00045,"c":"down"},{"i":123,"v":0.00015,"c":"down"},{"i":124,"v":0.00005,"c":"down"},{"i":125,"v":0.00008,"c":"up"},{"i":126,"v":0.00015,"c":"up"},{"i":127,"v":0.0001,"c":"down"},{"i":128,"v":0.00012,"c":"up"},{"i":129,"v":0.00015,"c":"up"},{"i":130,"v":0.00045,"c":"up"},{"i":131,"v":0.0006,"c":"up"},{"i":132,"v":0.00075,"c":"up"},{"i":133,"v":0.00076,"c":"up"},{"i":134,"v":0.00077,"c":"up"},{"i":135,"v":0.0009,"c":"up"},{"i":136,"v":0.00091,"c":"up"},{"i":137,"v":0.0012,"c":"up"},{"i":138,"v":0.00165,"c":"up"},{"i":139,"v":0.00195,"c":"up"},{"i":140,"v":0.00225,"c":"up"},{"i":141,"v":0.003,"c":"up"},{"i":142,"v":0.003616,"c":"up"},
{"i":0,"v":-0.00065,"c":"down"},{"i":1,"v":-0.00045,"c":"down"},{"i":2,"v":-0.0002,"c":"down"},{"i":3,"v":-0.0001,"c":"down"},{"i":4,"v":-0.00008,"c":"down"},{"i":5,"v":-0.00012,"c":"up"},{"i":6,"v":-0.00025,"c":"up"},{"i":7,"v":-0.0002,"c":"down"},{"i":8,"v":-0.0001,"c":"down"},{"i":9,"v":-0.00012,"c":"up"},{"i":10,"v":-0.0001,"c":"down"},{"i":11,"v":-0.00008,"c":"down"},{"i":12,"v":-0.0001,"c":"up"},{"i":13,"v":-0.00008,"c":"down"},{"i":14,"v":-0.00006,"c":"down"},{"i":15,"v":-0.00004,"c":"down"},{"i":16,"v":-0.00008,"c":"up"},{"i":17,"v":-0.00015,"c":"up"},{"i":18,"v":-0.00025,"c":"up"},{"i":19,"v":-0.0005,"c":"up"},{"i":20,"v":-0.00085,"c":"up"},{"i":21,"v":-0.00125,"c":"up"},{"i":22,"v":-0.00135,"c":"up"},{"i":23,"v":-0.0015,"c":"up"},{"i":24,"v":-0.00185,"c":"up"},{"i":25,"v":-0.0014,"c":"down"},{"i":26,"v":-0.00115,"c":"down"},{"i":27,"v":-0.00135,"c":"up"},{"i":28,"v":-0.0015,"c":"up"},{"i":29,"v":-0.00115,"c":"down"},{"i":30,"v":-0.001,"c":"down"},{"i":31,"v":-0.0011,"c":"up"},{"i":32,"v":-0.0009,"c":"down"},{"i":33,"v":-0.00075,"c":"down"},{"i":34,"v":-0.00074,"c":"down"},{"i":35,"v":-0.00065,"c":"down"},{"i":36,"v":-0.00075,"c":"up"},{"i":37,"v":-0.00074,"c":"down"},{"i":38,"v":-0.00065,"c":"down"},{"i":39,"v":-0.00075,"c":"up"},{"i":40,"v":-0.00035,"c":"down"},{"i":41,"v":-0.00025,"c":"down"},{"i":42,"v":-0.0002,"c":"down"},{"i":43,"v":-0.00015,"c":"down"},{"i":44,"v":-0.0006,"c":"up"},{"i":45,"v":-0.00075,"c":"up"},{"i":46,"v":-0.0004,"c":"down"},{"i":47,"v":-0.00115,"c":"up"},{"i":48,"v":-0.00175,"c":"up"},{"i":49,"v":-0.0017,"c":"down"},{"i":50,"v":-0.0011,"c":"down"},{"i":51,"v":-0.00085,"c":"down"},{"i":52,"v":-0.00086,"c":"up"},{"i":53,"v":-0.0009,"c":"up"},{"i":54,"v":-0.00091,"c":"up"},{"i":55,"v":-0.001,"c":"up"},{"i":56,"v":-0.0005,"c":"down"},{"i":57,"v":-0.0003,"c":"down"},{"i":58,"v":-0.0002,"c":"down"},{"i":59,"v":-0.0001,"c":"down"},{"i":60,"v":-0.00005,"c":"down"},{"i":61,"v":-0.0001,"c":"up"},{"i":62,"v":-0.00005,"c":"down"},{"i":63,"v":-0.00006,"c":"up"},{"i":64,"v":-0.00008,"c":"up"},{"i":65,"v":-0.00005,"c":"down"},{"i":66,"v":-0.0001,"c":"up"},{"i":67,"v":-0.0002,"c":"up"},{"i":68,"v":-0.00025,"c":"up"},{"i":69,"v":-0.00065,"c":"up"},{"i":70,"v":-0.0008,"c":"up"},{"i":71,"v":-0.00055,"c":"down"},{"i":72,"v":-0.00065,"c":"up"},{"i":73,"v":-0.0011,"c":"up"},{"i":74,"v":-0.00125,"c":"up"},{"i":75,"v":-0.00124,"c":"down"},{"i":76,"v":-0.00095,"c":"down"},{"i":77,"v":-0.00096,"c":"up"},{"i":78,"v":-0.00094,"c":"down"},{"i":79,"v":-0.0008,"c":"down"},{"i":80,"v":-0.00065,"c":"down"},{"i":81,"v":-0.00035,"c":"down"},{"i":82,"v":-0.00005,"c":"down"},{"i":83,"v":-0.00006,"c":"up"},{"i":84,"v":-0.00002,"c":"down"},{"i":85,"v":-0.00001,"c":"down"},{"i":86,"v":-0.00003,"c":"up"},{"i":87,"v":-0.00035,"c":"up"},{"i":88,"v":-0.00095,"c":"up"},{"i":89,"v":-0.0017,"c":"up"},{"i":90,"v":-0.0026,"c":"up"},{"i":91,"v":-0.00304,"c":"up"},{"i":92,"v":-0.00364,"c":"up"},{"i":93,"v":-0.00423,"c":"up"},{"i":94,"v":-0.00453,"c":"up"},{"i":95,"v":-0.00498,"c":"up"},{"i":96,"v":-0.00483,"c":"down"},{"i":97,"v":-0.00453,"c":"down"},{"i":98,"v":-0.00423,"c":"down"},{"i":99,"v":-0.00378,"c":"down"},{"i":100,"v":-0.00334,"c":"down"},{"i":101,"v":-0.00304,"c":"down"},{"i":102,"v":-0.00274,"c":"down"},{"i":103,"v":-0.00229,"c":"down"},{"i":104,"v":-0.00199,"c":"down"},{"i":105,"v":-0.00154,"c":"down"},{"i":106,"v":-0.0013,"c":"down"},{"i":107,"v":-0.00095,"c":"down"},{"i":108,"v":-0.00085,"c":"down"},{"i":109,"v":-0.00055,"c":"down"},{"i":110,"v":-0.0004,"c":"down"},{"i":111,"v":-0.00025,"c":"down"},{"i":112,"v":-0.00015,"c":"down"},{"i":113,"v":-0.00005,"c":"down"},{"i":114,"v":-0.0001,"c":"up"},{"i":115,"v":-0.00012,"c":"up"},{"i":116,"v":-0.00025,"c":"up"},{"i":117,"v":-0.00015,"c":"down"},{"i":118,"v":-0.00025,"c":"up"},{"i":119,"v":-0.00026,"c":"up"},{"i":120,"v":-0.0006,"c":"up"},{"i":121,"v":-0.0007,"c":"up"},{"i":122,"v":-0.0009,"c":"up"},{"i":123,"v":-0.00105,"c":"up"},{"i":124,"v":-0.00085,"c":"down"},{"i":125,"v":-0.00055,"c":"down"},{"i":126,"v":-0.00056,"c":"up"},{"i":127,"v":-0.0007,"c":"up"},{"i":128,"v":-0.00072,"c":"up"},{"i":129,"v":-0.00085,"c":"up"},{"i":130,"v":-0.001,"c":"up"},{"i":131,"v":-0.00085,"c":"down"},{"i":132,"v":-0.00086,"c":"up"},{"i":133,"v":-0.00087,"c":"up"},{"i":134,"v":-0.00145,"c":"up"},{"i":135,"v":-0.0019,"c":"up"},{"i":136,"v":-0.00191,"c":"up"},{"i":137,"v":-0.0019,"c":"down"},{"i":138,"v":-0.00235,"c":"up"},{"i":139,"v":-0.0034,"c":"up"},{"i":140,"v":-0.004,"c":"up"},{"i":141,"v":-0.0001,"c":"down"}
]
},
"vconcat": [
{
"width": 1225, "height": 483,
"layer": [
{"data": {"name": "candles"},
 "mark": {"type": "rule", "color": "black", "strokeWidth": 1, "clip": true},
 "encoding": {
  "x": {"field": "i", "type": "quantitative", "title": null, "scale": {"domain": [-0.0625, 153.0625], "nice": false, "zero": false},
        "axis": {"values": [0,4,8,12,16,20,24,28,32,36,40,44,48,52,56,60,64,68,72,76,80,84,88,92,96,100,104,108,112,116,120,124,128,132,136,140,144,148,152], "labels": false, "ticks": false, "domain": false, "grid": true}},
  "y": {"field": "l", "type": "quantitative", "title": null, "scale": {"domain": [1.2348, 1.26139], "nice": false, "zero": false},
        "axis": {"orient": "right", "values": [1.2366,1.2384,1.2402,1.242,1.2438,1.2456,1.2474,1.2492,1.251,1.2546,1.2564,1.2582,1.26], "format": ".5f", "tickSize": 4, "labelPadding": 2, "grid": true}},
  "y2": {"field": "h"}
 }},
{"data": {"name": "candles"},
 "mark": {"type": "bar", "orient": "vertical", "size": 5, "stroke": "black", "strokeWidth": 1, "clip": true},
 "encoding": {
  "x": {"field": "i", "type": "quantitative"},
  "y": {"field": "o", "type": "quantitative"},
  "y2": {"field": "c"},
  "fill": {"field": "d", "type": "nominal", "scale": {"domain": ["up", "down"], "range": ["white", "black"]}, "legend": null}
 }},
{"data": {"name": "jaw"}, "mark": {"type": "line", "color": "#1652d8", "strokeWidth": 2, "clip": true, "interpolate": "monotone"},
 "encoding": {"x": {"field": "i", "type": "quantitative"}, "y": {"field": "v", "type": "quantitative"}}},
{"data": {"name": "teeth"}, "mark": {"type": "line", "color": "#f01010", "strokeWidth": 2, "clip": true, "interpolate": "monotone"},
 "encoding": {"x": {"field": "i", "type": "quantitative"}, "y": {"field": "v", "type": "quantitative"}}},
{"data": {"name": "lips"}, "mark": {"type": "line", "color": "#3cc43c", "strokeWidth": 2, "clip": true, "interpolate": "monotone"},
 "encoding": {"x": {"field": "i", "type": "quantitative"}, "y": {"field": "v", "type": "quantitative"}}},
{"data": {"name": "fractals"},
 "mark": {"type": "point", "filled": true, "color": "black", "opacity": 1, "size": 140, "clip": true},
 "encoding": {
  "x": {"field": "i", "type": "quantitative"},
  "y": {"field": "p", "type": "quantitative"},
  "shape": {"field": "t", "type": "nominal", "scale": {"domain": ["up", "down"], "range": ["M0,-1L0.95,0.95L0,0.35L-0.95,0.95Z", "M0,1L0.95,-0.95L0,-0.35L-0.95,-0.95Z"]}, "legend": null}
 }},
{"data": {"values": [{"i": 139, "p": 1.25381}]},
 "mark": {"type": "point", "shape": "M0,-1L0.95,0L0.42,0L0.42,1L-0.42,1L-0.42,0L-0.95,0Z", "filled": false, "fill": "white", "stroke": "#5ed04a", "strokeWidth": 1.5, "opacity": 1, "size": 330},
 "encoding": {"x": {"field": "i", "type": "quantitative"}, "y": {"field": "p", "type": "quantitative"}}},
{"mark": {"type": "rule", "color": "#b40000", "strokeWidth": 1},
 "encoding": {"y": {"datum": 1.25298, "type": "quantitative"}}},
{"data": {"values": [{"a": 153.44, "b": 158.22, "lo": 1.25266, "hi": 1.25321}]},
 "mark": {"type": "rect", "color": "#c80000", "clip": false},
 "encoding": {"x": {"field": "a", "type": "quantitative"}, "x2": {"field": "b"}, "y": {"field": "lo", "type": "quantitative"}, "y2": {"field": "hi"}}},
{"data": {"values": [{"x": 155.83, "p": 1.25298, "t": "1.25298"}]},
 "mark": {"type": "text", "color": "white", "font": "DejaVu Sans", "fontSize": 7.6, "align": "center", "baseline": "middle", "clip": false},
 "encoding": {"x": {"field": "x", "type": "quantitative"}, "y": {"field": "p", "type": "quantitative"}, "text": {"field": "t"}}}
]
},
{
"width": 1225, "height": 101,
"layer": [
{"data": {"name": "ao"},
 "mark": {"type": "bar", "orient": "vertical", "size": 3},
 "encoding": {
  "x": {"field": "i", "type": "quantitative", "title": null, "scale": {"domain": [-0.0625, 153.0625], "nice": false, "zero": false},
        "axis": {"values": [0,4,8,12,16,20,24,28,32,36,40,44,48,52,56,60,64,68,72,76,80,84,88,92,96,100,104,108,112,116,120,124,128,132,136,140,144,148,152], "labels": false, "ticks": false, "domain": false, "grid": true}},
  "y": {"field": "v", "type": "quantitative", "title": null, "stack": null, "scale": {"domain": [-0.013624, 0.00947], "nice": false},
        "axis": {"orient": "right", "values": [0.00947, 0, -0.013624], "format": ".6f", "labelFlush": true, "tickSize": 4, "labelPadding": 2, "grid": true, "gridOpacity": {"condition": {"test": "datum.value === 0", "value": 1}, "value": 0}}},
  "y2": {"datum": 0},
  "color": {"field": "c", "type": "nominal", "scale": {"domain": ["up", "down"], "range": ["#008000", "#ff0000"]}, "legend": null}
 }},
{"data": {"values": [{"t": "AO 0.007466"}]},
 "mark": {"type": "text", "align": "left", "baseline": "middle", "dx": 3, "dy": 9, "font": "DejaVu Sans", "fontSize": 8.2, "color": "black"},
 "encoding": {"x": {"datum": -0.0625, "type": "quantitative"}, "y": {"datum": 0.00947, "type": "quantitative"}, "text": {"field": "t"}}}
]
},
{
"width": 1225, "height": 101,
"layer": [
{"data": {"name": "ac"},
 "mark": {"type": "bar", "orient": "vertical", "size": 3},
 "encoding": {
  "x": {"field": "i", "type": "quantitative", "title": null, "scale": {"domain": [-0.0625, 153.0625], "nice": false, "zero": false},
        "axis": {"values": [0,4,8,12,16,20,24,28,32,36,40,44,48,52,56,60,64,68,72,76,80,84,88,92,96,100,104,108,112,116,120,124,128,132,136,140,144,148,152], "labels": false, "ticks": false, "domain": false, "grid": true}},
  "y": {"field": "v", "type": "quantitative", "title": null, "stack": null, "scale": {"domain": [-0.0034205, 0.0025716], "nice": false},
        "axis": {"orient": "right", "values": [0.0025716, 0, -0.0034205], "format": ".7f", "labelFlush": true, "tickSize": 4, "labelPadding": 2, "grid": true, "gridOpacity": {"condition": {"test": "datum.value === 0", "value": 1}, "value": 0}}},
  "y2": {"datum": 0},
  "color": {"field": "c", "type": "nominal", "scale": {"domain": ["up", "down"], "range": ["#008000", "#ff0000"]}, "legend": null}
 }},
{"data": {"values": [{"t": "AC 0.0020516"}]},
 "mark": {"type": "text", "align": "left", "baseline": "middle", "dx": 3, "dy": 9, "font": "DejaVu Sans", "fontSize": 8.2, "color": "black"},
 "encoding": {"x": {"datum": -0.0625, "type": "quantitative"}, "y": {"datum": 0.0025716, "type": "quantitative"}, "text": {"field": "t"}}}
]
},
{
"width": 1225, "height": 83,
"layer": [
{"data": {"name": "gator"},
 "mark": {"type": "bar", "orient": "vertical", "size": 3},
 "encoding": {
  "x": {"field": "i", "type": "quantitative", "title": null, "scale": {"domain": [-0.0625, 153.0625], "nice": false, "zero": false},
        "axis": {"values": [0,4,8,12,16,20,24,28,32,36,40,44,48,52,56,60,64,68,72,76,80,84,88,92,96,100,104,108,112,116,120,124,128,132,136,140,144,148,152],
                 "grid": true, "domain": false, "tickSize": 4, "labelPadding": 2, "labelAlign": "left", "labelFlush": false, "labelOverlap": false, "labelBound": false, "labelFontSize": 8,
                 "tickOpacity": {"condition": {"test": "datum.value % 8 === 0 && datum.value <= 136", "value": 1}, "value": 0},
                 "labelExpr": "(datum.value % 8 === 0 && datum.value <= 136) ? ['26 Dec 2024','27 Dec 05:00','27 Dec 13:00','27 Dec 21:00','30 Dec 05:00','30 Dec 13:00','30 Dec 21:00','31 Dec 05:00','31 Dec 13:00','31 Dec 21:00','2 Jan 06:00','2 Jan 14:00','2 Jan 22:00','3 Jan 06:00','3 Jan 14:00','3 Jan 22:00','6 Jan 06:00','6 Jan 14:00'][datum.value / 8] : ''"}},
  "y": {"field": "v", "type": "quantitative", "title": null, "stack": null, "scale": {"domain": [-0.006028, 0.006365], "nice": false},
        "axis": {"orient": "right", "values": [0.006365, 0, -0.006028], "format": ".6f", "labelFlush": true, "tickSize": 4, "labelPadding": 2, "grid": true, "gridOpacity": {"condition": {"test": "datum.value === 0", "value": 1}, "value": 0}}},
  "y2": {"datum": 0},
  "color": {"field": "c", "type": "nominal", "scale": {"domain": ["up", "down"], "range": ["#008000", "#ff0000"]}, "legend": null}
 }},
{"data": {"values": [{"t": "Gator(13,8,5) 0.003616 0.000000"}]},
 "mark": {"type": "text", "align": "left", "baseline": "middle", "dx": 3, "dy": 8, "font": "DejaVu Sans", "fontSize": 8.2, "color": "black"},
 "encoding": {"x": {"datum": -0.0625, "type": "quantitative"}, "y": {"datum": 0.006365, "type": "quantitative"}, "text": {"field": "t"}}}
]
}
]
}
